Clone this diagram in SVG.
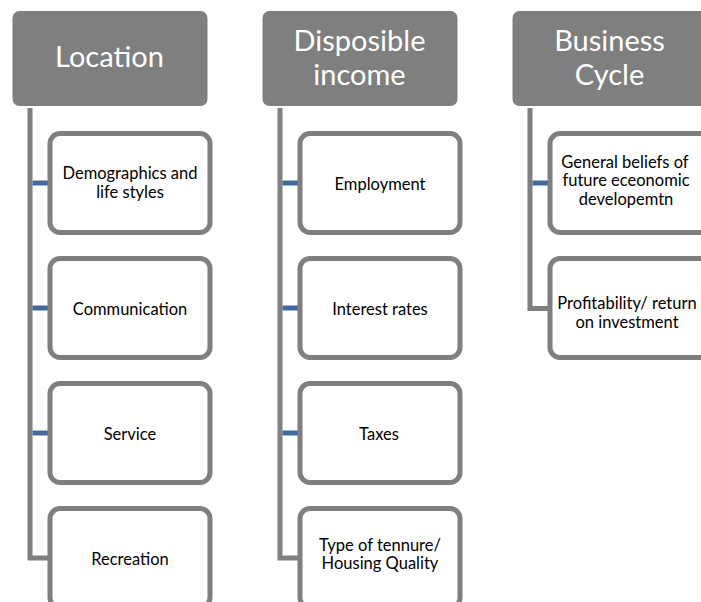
<svg xmlns="http://www.w3.org/2000/svg" width="701" height="602" viewBox="0 0 701 602">
<style>
.hdr{fill:#7f7f7f}
.htxt{font-family:Lato,"Liberation Sans",sans-serif;font-size:29px;fill:#ffffff;text-anchor:middle}
.box{fill:#ffffff;stroke:#7f7f7f;stroke-width:5}
.ctxt{font-family:Lato,"Liberation Sans",sans-serif;font-size:16.5px;fill:#000000;text-anchor:middle}
.trunk{fill:none;stroke:#7f7f7f;stroke-width:5}
.tick{stroke:#43689b;stroke-width:5}
</style>
<rect width="701" height="602" fill="#ffffff"/>
<g id="connectors">
<polyline class="trunk" points="30,108 30,558 50,558"/>
<polyline class="trunk" points="280,108 280,558 300,558"/>
<polyline class="trunk" points="530,108 530,308.5 550,308.5"/>
<line class="tick" x1="32.5" y1="183" x2="48" y2="183"/>
<line class="tick" x1="32.5" y1="308" x2="48" y2="308"/>
<line class="tick" x1="32.5" y1="433" x2="48" y2="433"/>
<line class="tick" x1="282.5" y1="183" x2="298" y2="183"/>
<line class="tick" x1="282.5" y1="308" x2="298" y2="308"/>
<line class="tick" x1="282.5" y1="433" x2="298" y2="433"/>
<line class="tick" x1="532.5" y1="183" x2="548" y2="183"/>
</g>
<g id="location">
<rect class="hdr" x="12.5" y="11" width="195" height="95" rx="7"/>
<text class="htxt" x="109.5" y="67.3">Location</text>
</g>
<g id="demographics">
<rect class="box" x="50" y="133.5" width="160" height="99" rx="10"/>
<text class="ctxt" x="130" y="179">Demographics and</text>
<text class="ctxt" x="130" y="197.5">life styles</text>
</g>
<g id="communication">
<rect class="box" x="50" y="258.5" width="160" height="99" rx="10"/>
<text class="ctxt" x="130" y="314.5">Communication</text>
</g>
<g id="service">
<rect class="box" x="50" y="383.5" width="160" height="99" rx="10"/>
<text class="ctxt" x="130" y="439.5">Service</text>
</g>
<g id="recreation">
<rect class="box" x="50" y="508.5" width="160" height="99" rx="10"/>
<text class="ctxt" x="130" y="564.5">Recreation</text>
</g>
<g id="disposible-income">
<rect class="hdr" x="262.5" y="11" width="195" height="95" rx="7"/>
<text class="htxt" x="359.5" y="50.5">Disposible</text>
<text class="htxt" x="359.5" y="85">income</text>
</g>
<g id="employment">
<rect class="box" x="300" y="133.5" width="160" height="99" rx="10"/>
<text class="ctxt" x="380" y="189.5">Employment</text>
</g>
<g id="interest-rates">
<rect class="box" x="300" y="258.5" width="160" height="99" rx="10"/>
<text class="ctxt" x="380" y="314.5">Interest rates</text>
</g>
<g id="taxes">
<rect class="box" x="300" y="383.5" width="160" height="99" rx="10"/>
<text class="ctxt" x="379" y="439.5">Taxes</text>
</g>
<g id="tenure">
<rect class="box" x="300" y="508.5" width="160" height="99" rx="10"/>
<text class="ctxt" x="380" y="550.5">Type of tennure/</text>
<text class="ctxt" x="380" y="569">Housing Quality</text>
</g>
<g id="business-cycle">
<rect class="hdr" x="512.5" y="11" width="195" height="95" rx="7"/>
<text class="htxt" x="609.5" y="50.5">Business</text>
<text class="htxt" x="609.5" y="85">Cycle</text>
</g>
<g id="general-beliefs">
<rect class="box" x="550" y="133.5" width="160" height="99" rx="10"/>
<text class="ctxt" x="625" y="167.5">General beliefs of</text>
<text class="ctxt" x="626" y="186">future eceonomic</text>
<text class="ctxt" x="626" y="204.5">developemtn</text>
</g>
<g id="profitability">
<rect class="box" x="550" y="258.5" width="160" height="99" rx="10"/>
<text class="ctxt" x="627" y="309">Profitability/ return</text>
<text class="ctxt" x="627" y="327.5">on investment</text>
</g>
</svg>
